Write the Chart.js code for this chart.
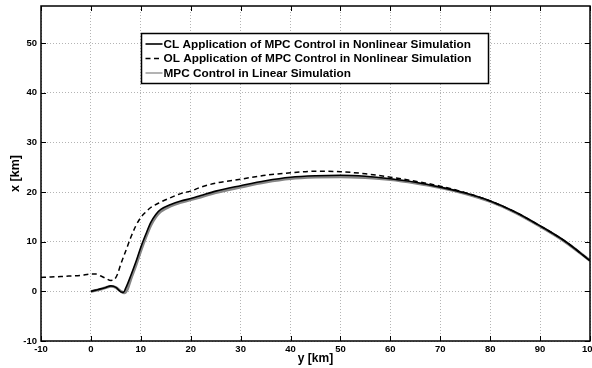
<!DOCTYPE html>
<html>
<head>
<meta charset="utf-8">
<script src="https://cdn.jsdelivr.net/npm/chart.js@4"></script>
<style>
  html, body { margin: 0; padding: 0; background: #fff; }
  #wrap { width: 592px; height: 368px; }
</style>
</head>
<body>
<div id="wrap"><canvas id="chart" width="592" height="368"></canvas></div>
<script>
// Trajectory data (y [km] along, x [km] up)
const clY = [0, 1, 2, 3, 4, 5, 6, 6.5, 7, 8, 9, 10, 11, 12, 13, 14, 16, 18, 20, 22, 25, 30, 35, 40, 45, 50, 55, 60, 65, 70, 75, 80, 85, 90, 95, 100];
const clX = [0, 0.25, 0.5, 0.8, 1.1, 0.8, -0.1, -0.2, 0.7, 3.2, 5.9, 8.9, 11.5, 13.9, 15.5, 16.5, 17.5, 18.2, 18.7, 19.3, 20.2, 21.3, 22.3, 23.0, 23.3, 23.4, 23.2, 22.7, 22.0, 21.0, 19.8, 18.2, 16.0, 13.2, 10.1, 6.2];

const olY = [-10, -8, -6, -4, -2, 0, 1, 2, 3, 4, 4.7, 5.3, 6, 7, 8, 9, 10, 11, 12, 14, 16, 18, 20, 22, 25, 30, 35, 40, 45, 50, 55, 60, 65, 70, 75, 80, 85, 90, 95, 100];
const olX = [2.8, 2.9, 3.0, 3.1, 3.2, 3.5, 3.5, 3.1, 2.6, 2.2, 2.4, 3.4, 5.5, 8.2, 10.9, 13.2, 14.9, 16.0, 16.9, 18.0, 18.9, 19.7, 20.2, 21.0, 21.8, 22.6, 23.4, 23.9, 24.2, 24.1, 23.7, 23.0, 22.2, 21.2, 19.9, 18.2, 16.0, 13.2, 10.1, 6.2];

const linY = [0, 1, 2, 3, 4, 5, 6, 6.7, 7.3, 8, 9, 10, 11, 12, 13, 14, 16, 18, 20, 22, 25, 30, 35, 40, 45, 50, 55, 60, 65, 70, 75, 80, 85, 90, 95, 100];
const linX = [0, 0.2, 0.45, 0.75, 1.0, 0.8, 0, -0.3, 0.4, 2.5, 5.2, 8.2, 10.9, 13.3, 15.0, 16.1, 17.2, 17.9, 18.5, 19.0, 19.9, 21.0, 22.0, 22.7, 23.0, 23.1, 22.9, 22.5, 21.8, 20.9, 19.7, 18.1, 15.9, 13.1, 10.0, 6.2];

const seriesLabels = [
    'CL Application of MPC Control in Nonlinear Simulation',
    'OL Application of MPC Control in Nonlinear Simulation',
    'MPC Control in Linear Simulation'
];

const xTicks = [-10, 0, 10, 20, 30, 40, 50, 60, 70, 80, 90, 100];
const yTicks = [-10, 0, 10, 20, 30, 40, 50];

const FONT = '"Liberation Sans", Arial, Helvetica, sans-serif';

function toPoints(xs, ys) {
    return xs.map((v, i) => ({ x: v, y: ys[i] }));
}

// fixed axis box sizes so the plot area sits where the reference has it
function fixWidth(w) {
    return function(scale) {
        scale.width = w;
        scale.paddingTop = 0;
        scale.paddingBottom = 0;
    };
}
function fixHeight(h) {
    return function(scale) {
        scale.height = h;
        scale.paddingLeft = 0;
        scale.paddingRight = 0;
    };
}

// box, inward ticks and legend, matlab style
const matlabFrame = {
    id: 'matlabFrame',
    afterDatasetsDraw(chart) {
        const ctx = chart.ctx;
        const a = chart.chartArea;
        const xs = chart.scales.x;
        const ys = chart.scales.y;
        ctx.save();
        ctx.strokeStyle = '#000';
        ctx.lineWidth = 1;
        ctx.beginPath();
        xs.ticks.forEach(t => {
            const px = Math.round(xs.getPixelForValue(t.value)) + 0.5;
            ctx.moveTo(px, a.bottom); ctx.lineTo(px, a.bottom - 5);
            ctx.moveTo(px, a.top); ctx.lineTo(px, a.top + 5);
        });
        ys.ticks.forEach(t => {
            const py = Math.round(ys.getPixelForValue(t.value)) + 0.5;
            ctx.moveTo(a.left, py); ctx.lineTo(a.left + 5, py);
            ctx.moveTo(a.right, py); ctx.lineTo(a.right - 5, py);
        });
        ctx.stroke();
        ctx.lineWidth = 1.5;
        ctx.strokeRect(a.left, a.top, a.right - a.left, a.bottom - a.top);

        // legend
        const bx = 141.5, by = 33.5, bw = 347, bh = 50;
        ctx.fillStyle = '#fff';
        ctx.fillRect(bx, by, bw, bh);
        ctx.lineWidth = 1.5;
        ctx.strokeRect(bx, by, bw, bh);
        ctx.font = 'bold 11.8px ' + FONT;
        ctx.textBaseline = 'middle';
        chart.data.datasets.forEach((ds, i) => {
            const ry = by + 10.5 + i * 14.5;
            ctx.strokeStyle = ds.legendColor || ds.borderColor;
            ctx.lineWidth = ds.legendWidth || ds.borderWidth;
            ctx.setLineDash(ds.borderDash || []);
            ctx.beginPath();
            ctx.moveTo(bx + 4, ry);
            ctx.lineTo(bx + 21, ry);
            ctx.stroke();
            ctx.setLineDash([]);
            ctx.fillStyle = '#000';
            ctx.fillText(ds.label, bx + 22, ry + 0.5);
        });
        ctx.restore();
    }
};

const ctx = document.getElementById('chart').getContext('2d');
new Chart(ctx, {
    type: 'line',
    data: {
        datasets: [
            {
                label: seriesLabels[0],
                data: toPoints(clY, clX),
                borderColor: '#000',
                borderWidth: 1.6
            },
            {
                label: seriesLabels[1],
                data: toPoints(olY, olX),
                borderColor: '#000',
                borderWidth: 1.5,
                borderDash: [5, 3.5]
            },
            {
                label: seriesLabels[2],
                data: toPoints(linY, linX),
                borderColor: '#858585',
                borderWidth: 2.8,
                legendColor: '#9a9a9a',
                legendWidth: 1.5
            }
        ]
    },
    options: {
        responsive: false,
        animation: false,
        events: [],
        elements: {
            point: { radius: 0 },
            line: { cubicInterpolationMode: 'monotone', fill: false }
        },
        layout: { padding: { top: 6, right: 2, left: 0, bottom: 0 } },
        plugins: {
            legend: { display: false },
            tooltip: { enabled: false }
        },
        scales: {
            x: {
                type: 'linear',
                min: -10,
                max: 100,
                afterBuildTicks: s => { s.ticks = xTicks.map(v => ({ value: v })); },
                afterFit: fixHeight(27),
                grid: { color: '#b4b4b4', lineWidth: 1, drawTicks: false },
                border: { display: false, dash: [1, 2] },
                ticks: {
                    padding: 3,
                    maxRotation: 0,
                    color: '#000',
                    font: { family: FONT, size: 9.5, weight: 'bold' }
                },
                title: {
                    display: true,
                    text: 'y [km]',
                    color: '#000',
                    padding: { top: 0, bottom: 2 },
                    font: { family: FONT, size: 12, weight: 'bold' }
                }
            },
            y: {
                type: 'linear',
                min: -10,
                max: 57.5,
                afterBuildTicks: s => { s.ticks = yTicks.map(v => ({ value: v })); },
                afterFit: fixWidth(41),
                grid: { color: '#b4b4b4', lineWidth: 1, drawTicks: false },
                border: { display: false, dash: [1, 2] },
                ticks: {
                    padding: 4,
                    color: '#000',
                    font: { family: FONT, size: 9.5, weight: 'bold' }
                },
                title: {
                    display: true,
                    text: 'x [km]',
                    color: '#000',
                    padding: { top: 8, bottom: 0 },
                    font: { family: FONT, size: 12.5, weight: 'bold' }
                }
            }
        }
    },
    plugins: [matlabFrame]
});
</script>
</body>
</html>
